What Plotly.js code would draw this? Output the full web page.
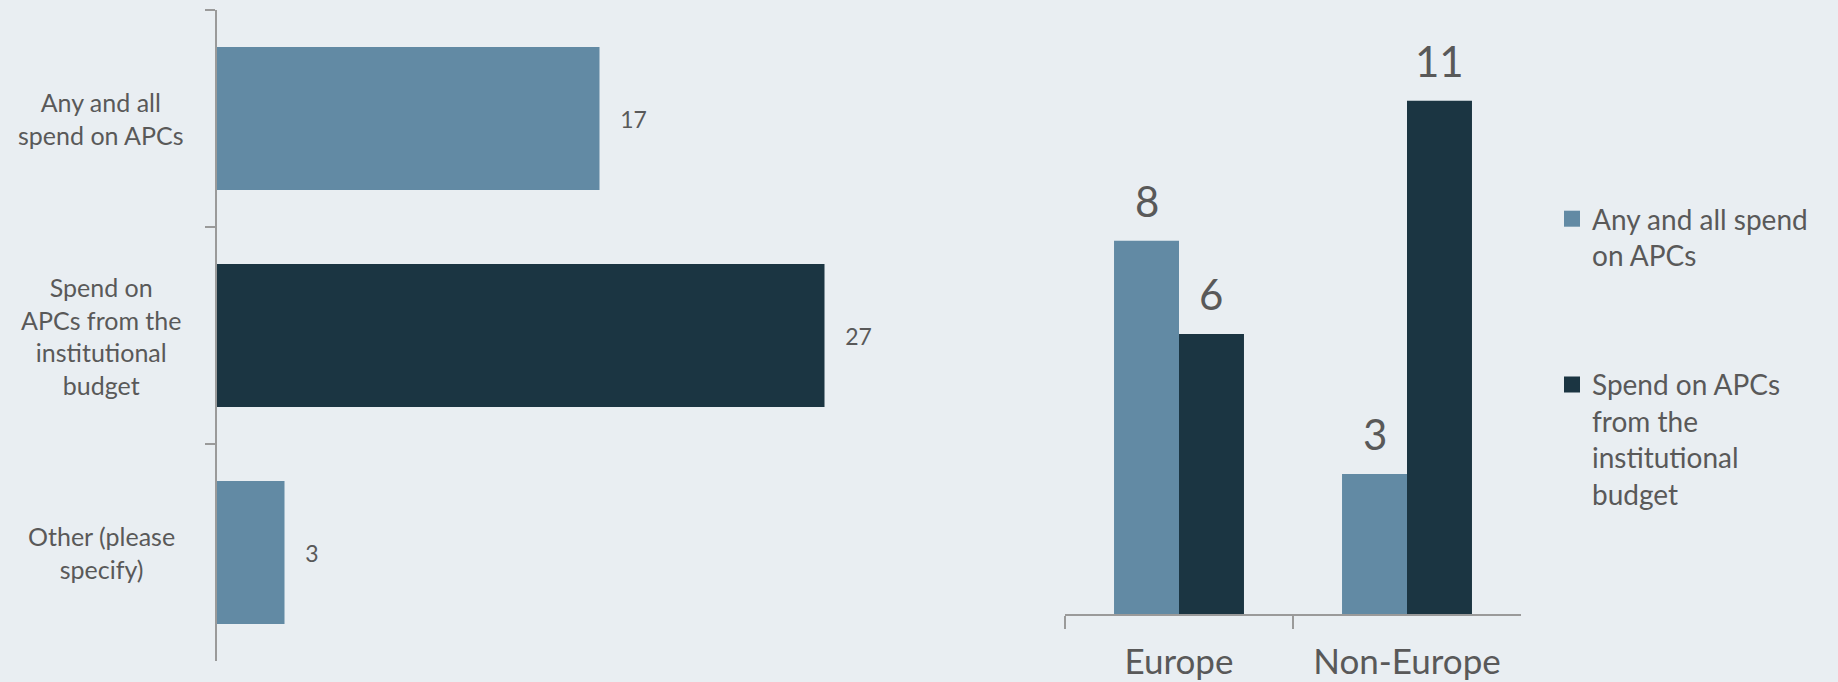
<!DOCTYPE html>
<html>
<head>
<meta charset="utf-8">
<script src="https://cdn.plot.ly/plotly-3.0.1.min.js"></script>
<style>
  html, body { margin: 0; padding: 0; background: #E9EEF2; }
  #chart { width: 1838px; height: 682px; }
</style>
</head>
<body>
<div id="chart"></div>
<script>
// ---- data ----
const sourceKeys = ["any", "institutional", "other"];
const sourceLabels = [
  "Any and all<br>spend on APCs",
  "Spend on<br>APCs from the<br>institutional<br>budget",
  "Other (please<br>specify)"
];
const sourceCounts = [17, 27, 3];

const regions = ["Europe", "Non-Europe"];
const seriesNames = [
  "Any and all spend<br>on APCs",
  "Spend on APCs<br>from the<br>institutional<br>budget"
];
const anySpend = [8, 3];
const institutionalSpend = [6, 11];

// ---- style ----
const LIGHT = "#628AA4";
const DARK = "#1B3542";
const TEXT = "#595959";
const AXIS = "#9A9A9A";
const BG = "#E9EEF2";
const FONT = "Lato, 'Open Sans', sans-serif";
const sourceColors = [LIGHT, DARK, LIGHT];
const BAR_GAP = 0.43;
const LABEL_LIFT = 13;   // px between bar top and value label box

const W = 1838, H = 682;
const px = v => v / W;
const py = v => (H - v) / H;

const x2Domain = [px(1065), px(1521)];
// half of a grouped bar's width in pixels (used to centre labels over bars)
const catPx = (x2Domain[1] - x2Domain[0]) * W / regions.length;
const halfBarPx = catPx * (1 - BAR_GAP) / 4;

const traces = [
  {
    type: "bar", orientation: "h",
    x: sourceCounts, y: sourceKeys,
    xaxis: "x", yaxis: "y",
    width: 0.66,
    marker: { color: sourceColors },
    texttemplate: "\u00A0\u00A0\u00A0%{x}",
    textposition: "outside",
    constraintext: "none",
    cliponaxis: false,
    textfont: { family: FONT, size: 23, color: TEXT },
    showlegend: false, hoverinfo: "skip"
  },
  {
    type: "bar", x: regions, y: anySpend, name: seriesNames[0],
    xaxis: "x2", yaxis: "y2",
    marker: { color: LIGHT },
    showlegend: false, hoverinfo: "skip"
  },
  {
    type: "bar", x: regions, y: institutionalSpend, name: seriesNames[1],
    xaxis: "x2", yaxis: "y2",
    marker: { color: DARK },
    showlegend: false, hoverinfo: "skip"
  },
  // legend entries (square swatches)
  {
    type: "scatter", mode: "markers", x: [null], y: [null],
    xaxis: "x2", yaxis: "y2", name: seriesNames[0], legendgroup: "a",
    marker: { symbol: "square", size: 18, color: LIGHT }, hoverinfo: "skip"
  },
  {
    type: "scatter", mode: "markers", x: [null], y: [null],
    xaxis: "x2", yaxis: "y2", name: seriesNames[1], legendgroup: "b",
    marker: { symbol: "square", size: 18, color: DARK }, hoverinfo: "skip"
  }
];

const annotations = sourceKeys.map((k, i) => ({
  xref: "paper", yref: "y",
  x: px(101), y: k,
  xanchor: "center", yanchor: "middle",
  text: sourceLabels[i], align: "center", showarrow: false,
  font: { family: FONT, size: 25, color: TEXT }
}));

// value labels above the grouped bars
[anySpend, institutionalSpend].forEach((vals, s) => {
  vals.forEach((v, i) => {
    annotations.push({
      xref: "x2", yref: "y2",
      x: regions[i], y: v,
      xshift: (s === 0 ? -1 : 1) * halfBarPx,
      yshift: LABEL_LIFT,
      xanchor: "center", yanchor: "bottom",
      text: String(v), showarrow: false,
      font: { family: FONT, size: 42, color: TEXT }
    });
  });
});

const layout = {
  width: W, height: H,
  margin: { l: 0, r: 0, t: 0, b: 0 },
  paper_bgcolor: BG, plot_bgcolor: BG,
  font: { family: FONT, color: TEXT },
  bargap: BAR_GAP, bargroupgap: 0, barmode: "group",
  xaxis: {
    domain: [px(217), px(892)], range: [0, 30],
    showgrid: false, zeroline: false, showline: false,
    showticklabels: false, ticks: "", fixedrange: true
  },
  yaxis: {
    domain: [py(661), py(10)],
    type: "category", categoryarray: sourceKeys, categoryorder: "array",
    range: [2.5, -0.5],
    showgrid: false, zeroline: false,
    showline: true, linecolor: AXIS, linewidth: 2,
    ticks: "outside", ticklen: 10, tickwidth: 2, tickcolor: AXIS,
    tickson: "boundaries", showticklabels: false, fixedrange: true
  },
  xaxis2: {
    domain: x2Domain, anchor: "y2",
    type: "category",
    showgrid: false, zeroline: false,
    showline: true, linecolor: AXIS, linewidth: 2,
    ticks: "outside", ticklen: 13, tickwidth: 2, tickcolor: AXIS,
    tickson: "boundaries",
    tickfont: { family: FONT, size: 35, color: TEXT },
    ticklabelstandoff: 16, fixedrange: true
  },
  yaxis2: {
    domain: [py(614), py(54)], anchor: "x2", range: [0, 12],
    visible: false, fixedrange: true
  },
  legend: {
    x: px(1552), xanchor: "left",
    y: py(194), yanchor: "top",
    bgcolor: "rgba(0,0,0,0)",
    font: { family: FONT, size: 28, color: TEXT },
    valign: "top", traceorder: "grouped", tracegroupgap: 90,
    itemclick: false, itemdoubleclick: false
  },
  annotations: annotations,
  showlegend: true
};

Plotly.newPlot("chart", traces, layout, { displayModeBar: false, staticPlot: true });
</script>
</body>
</html>
